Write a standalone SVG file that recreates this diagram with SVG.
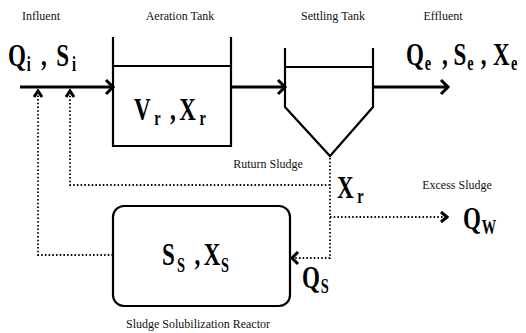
<svg xmlns="http://www.w3.org/2000/svg" width="526" height="333" viewBox="0 0 526 333">
<style>
.lbl{font-family:"Liberation Serif","Times New Roman",serif;font-size:12px;fill:#111;}
.big{font-family:"Liberation Serif","Times New Roman",serif;font-weight:bold;font-size:32px;fill:#000;}
.sub{font-size:20px;}
.solid{fill:none;stroke:#000;stroke-width:2.2;}
.flow{fill:none;stroke:#000;stroke-width:3;}
.dot{fill:none;stroke:#000;stroke-width:1.8;stroke-dasharray:1.5 2.2;}
.head{fill:none;stroke:#000;stroke-width:3;stroke-linejoin:miter;}
</style>
<rect width="526" height="333" fill="#fff"/>

<g id="labels">
<text class="lbl" x="41" y="20" text-anchor="middle">Influent</text>
<text class="lbl" x="180" y="20" text-anchor="middle">Aeration Tank</text>
<text class="lbl" x="333" y="20" text-anchor="middle">Settling Tank</text>
<text class="lbl" x="443" y="20" text-anchor="middle">Effluent</text>
<text class="lbl" x="268" y="168" text-anchor="middle">Ruturn Sludge</text>
<text class="lbl" x="457" y="189" text-anchor="middle">Excess Sludge</text>
<text class="lbl" x="198" y="328" text-anchor="middle">Sludge Solubilization Reactor</text>
</g>

<g id="aeration-tank">
<polyline class="solid" points="113,37 113,146 231,146 231,37"/>
<line class="solid" x1="113" y1="66" x2="231" y2="66"/>
<text class="big" transform="translate(134,120) scale(0.72,1)"><tspan x="0" y="0">V</tspan><tspan class="sub" x="28" y="5">r</tspan><tspan x="50" y="0">,</tspan><tspan x="63" y="0">X</tspan><tspan class="sub" x="91" y="5">r</tspan></text>
</g>

<g id="settling-tank">
<polyline class="solid" points="285,48 285,107 330,156 373,107 373,48"/>
<line class="solid" x1="285" y1="67" x2="373" y2="67"/>
</g>

<g id="reactor">
<rect class="solid" x="113" y="206" width="177" height="100" rx="11" stroke-width="2.6"/>
<text class="big" transform="translate(162,265) scale(0.72,1)"><tspan x="0" y="0">S</tspan><tspan class="sub" x="21" y="7">S</tspan><tspan x="45" y="0">,</tspan><tspan x="58" y="0">X</tspan><tspan class="sub" x="82" y="7">S</tspan></text>
</g>

<g id="influent">
<text class="big" transform="translate(8,66) scale(0.72,1)"><tspan x="0" y="0">Q</tspan><tspan class="sub" x="26" y="5">i</tspan><tspan x="46" y="0">,</tspan><tspan x="67" y="0">S</tspan><tspan class="sub" x="89" y="5">i</tspan></text>
</g>

<g id="effluent">
<text class="big" transform="translate(406,65) scale(0.72,1)"><tspan x="0" y="0">Q</tspan><tspan class="sub" x="26" y="5">e</tspan><tspan x="50" y="0">,</tspan><tspan x="66" y="0">S</tspan><tspan class="sub" x="85" y="5">e</tspan><tspan x="104" y="0">,</tspan><tspan x="121" y="0">X</tspan><tspan class="sub" x="146" y="5">e</tspan></text>
</g>

<g id="return-sludge">
<text class="big" transform="translate(337,198) scale(0.72,1)"><tspan x="0" y="0">X</tspan><tspan class="sub" x="28" y="5">r</tspan></text>
</g>

<g id="excess-sludge">
<text class="big" transform="translate(463,229) scale(0.72,1)"><tspan x="0" y="0">Q</tspan><tspan class="sub" x="26" y="5">W</tspan></text>
</g>

<g id="solubilized-flow">
<text class="big" transform="translate(302,288) scale(0.72,1)"><tspan x="0" y="0">Q</tspan><tspan class="sub" x="26" y="5">S</tspan></text>
</g>

<g id="connectors">
<line class="flow" x1="20" y1="87" x2="112" y2="87"/>
<polyline class="head" points="106,80 113,87 106,94"/>
<line class="flow" x1="232" y1="87" x2="284" y2="87"/>
<polyline class="head" points="278,80 285,87 278,94"/>
<line class="flow" x1="374" y1="87" x2="447" y2="87"/>
<polyline class="head" points="441,80 448,87 441,94"/>

<polyline class="dot" points="330,158 330,258 295,258"/>
<polyline class="head" points="298,252 292,258 298,264" stroke-width="2.5"/>
<polyline class="dot" points="330,185 70,185 70,95"/>
<polyline class="head" points="66,97 70,91 74,97" stroke-width="1.8"/>
<polyline class="dot" points="113,255 38,255 38,95"/>
<polyline class="head" points="34,97 38,91 42,97" stroke-width="1.8"/>
<line class="dot" x1="330" y1="217" x2="445" y2="217"/>
<polyline class="head" points="441,212 447,217 441,222" stroke-width="2.5"/>
</g>
</svg>
